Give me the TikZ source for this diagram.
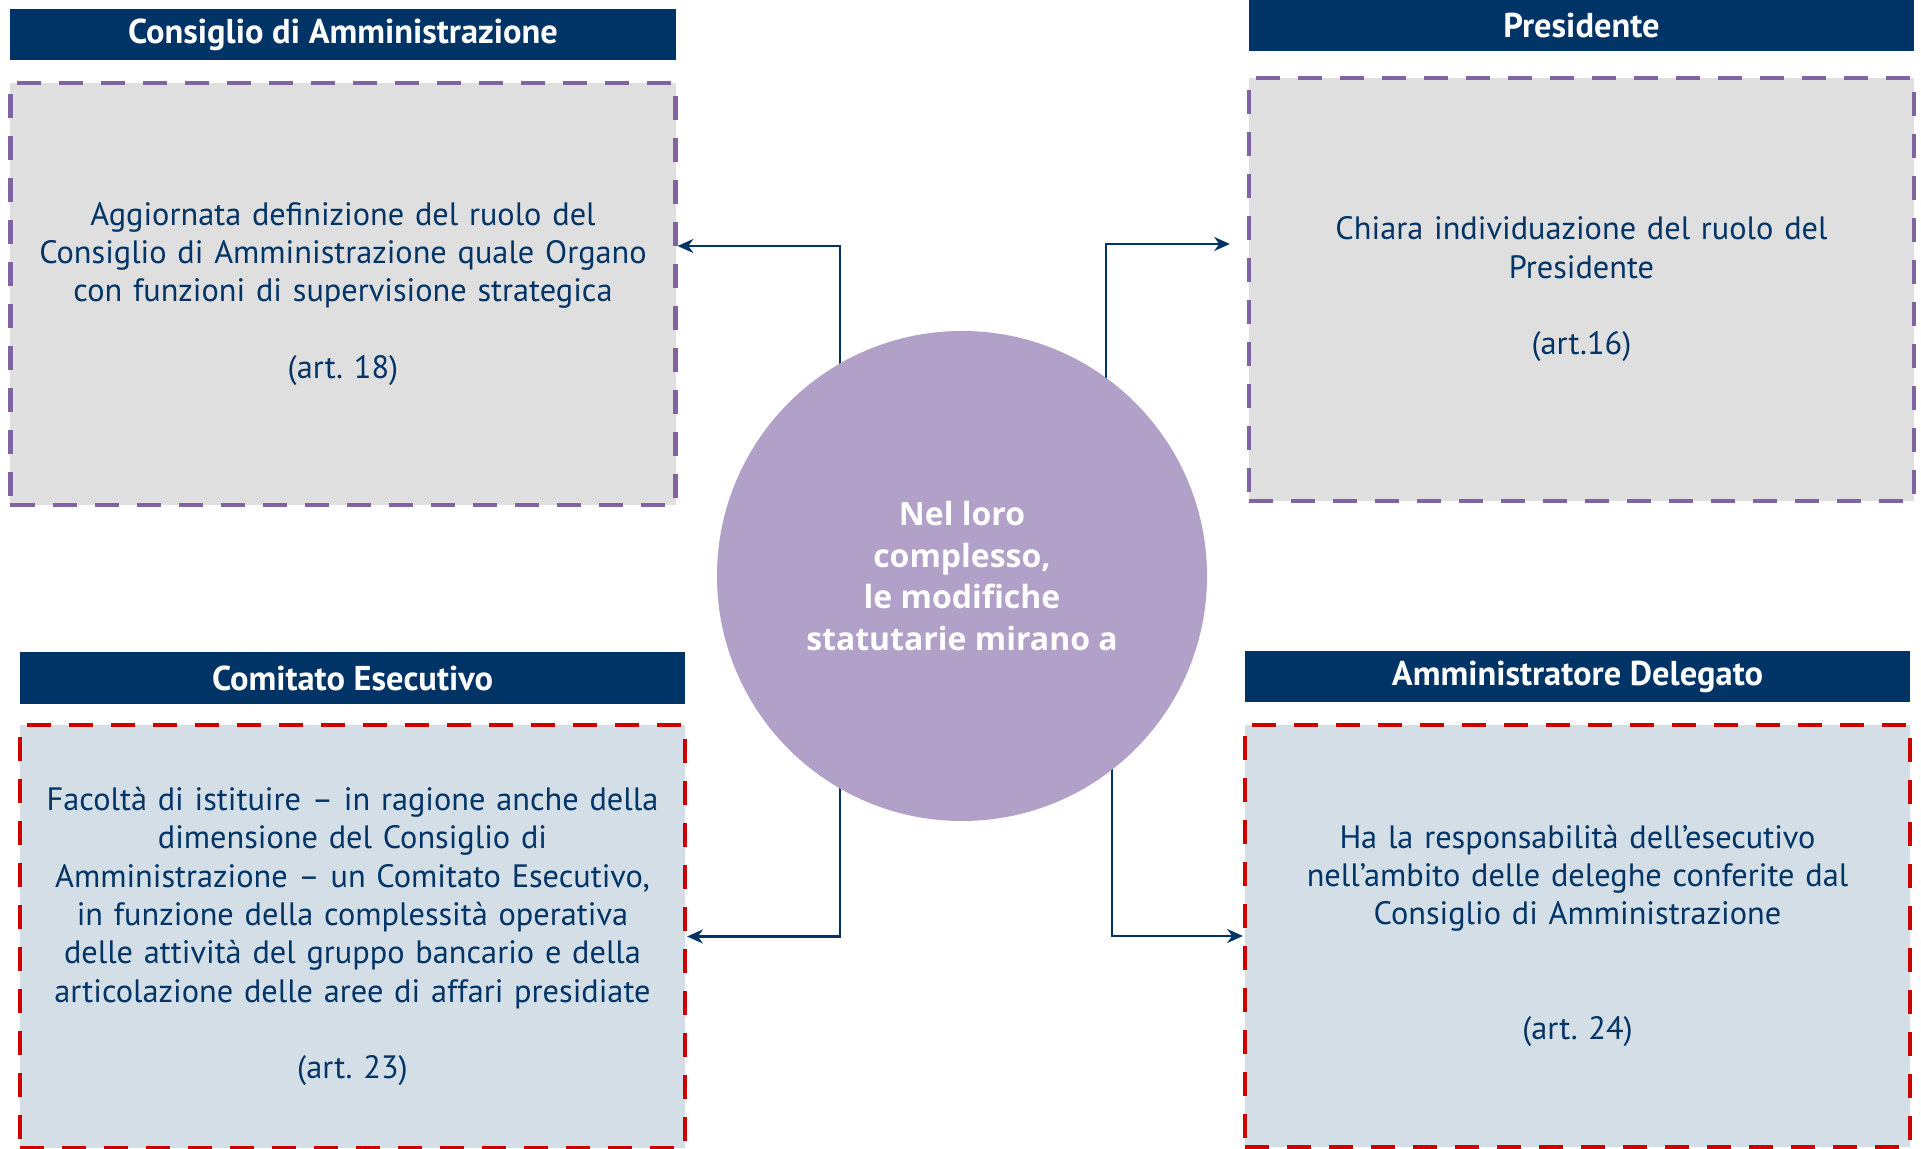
\documentclass[tikz,border=0pt]{standalone}
\usepackage{fontspec}
\setmainfont{PT Sans}
\newfontfamily\hubfont{Open Sans}
\usepackage{xcolor}
\usetikzlibrary{positioning,arrows.meta,backgrounds}

\definecolor{navy}{RGB}{0,51,102}
\definecolor{lilac}{RGB}{128,100,162}
\definecolor{lilacfill}{RGB}{177,160,199}
\definecolor{boxgray}{RGB}{223,223,223}
\definecolor{boxblue}{RGB}{211,222,230}
\definecolor{dashred}{RGB}{204,0,0}

\begin{document}
\begin{tikzpicture}[>={Stealth[length=9pt,width=8pt]},
			font=\fontsize{18.4}{21.8}\selectfont\frenchspacing]
			\tikzstyle{head}=[fill=navy,text=white,minimum width=13.3cm,minimum height=1.03cm,inner sep=0pt,font=\fontsize{19.6}{22}\selectfont\bfseries]
			\tikzstyle{card}=[dash pattern=on 0.48cm off 0.36cm,line width=2.4pt,minimum width=13.3cm,minimum height=8.45cm,text width=12.9cm,align=center,text=navy,inner sep=0pt]
			\tikzstyle{purplecard}=[card,draw=lilac,fill=boxgray]
			\tikzstyle{redcard}=[card,draw=dashred,fill=boxblue]
			\tikzstyle{link}=[->,draw=navy,line width=1.2pt]
			
			\useasboundingbox (0,0) rectangle (38.42,22.98);
			
			\node[purplecard]    (cda)  at (6.86,17.10)  {Aggiornata definizione del ruolo del\\Consiglio di Amministrazione quale Organo\\con funzioni di supervisione strategica\\~\\(art. 18)};
			
			\node[head]    (cdaH)[above=0.4cm of cda]    {Consiglio di Amministrazione};
			
			\node[purplecard]    (pres) at (31.63,17.19) {Chiara individuazione del ruolo del\\Presidente\\~\\(art.16)};
			
			\node[head]    (presH)[above=0.5cm of pres]  {Presidente};
			
			\node[redcard]    (com)  at (7.05,4.25)    {Facoltà di istituire – in ragione anche della\\dimensione del Consiglio di\\Amministrazione – un Comitato Esecutivo,\\in funzione della complessità operativa\\delle attività del gruppo bancario e della\\articolazione delle aree di affari presidiate\\~\\(art. 23)};
			
			\node[head]    (comH)[above=0.38cm of com]   {Comitato Esecutivo};
			
			\node[redcard]    (ad)   at (31.55,4.26)   {Ha la responsabilità dell’esecutivo\\nell’ambito delle deleghe conferite dal\\Consiglio di Amministrazione\\~\\~\\(art. 24)};
			
			\node[head]    (adH)[above=0.4cm of ad]      {Amministratore Delegato};
			
			\node[circle,fill=lilacfill,minimum size=9.8cm,inner sep=0pt,text=white,align=center,
				font=\hubfont\bfseries\fontsize{18.2}{23.8}\selectfont]    (hub) at (19.24,11.46)
				{Nel loro\\complesso,\\le modifiche\\statutarie mirano a};
			
			\begin{scope}[on background layer]
			\draw[link] ([xshift=-2.44cm]hub.center) |- ([yshift=0.96cm]cda.east);
			
			\draw[link] ([xshift=2.88cm]hub.center) |- ([xshift=-0.34cm,yshift=0.91cm]pres.west);
			
			\draw[link] ([xshift=-2.44cm]hub.center) |- (com.east);
			
			\draw[link] ([xshift=3cm]hub.center) |- (ad.west);
			\end{scope}
			\end{tikzpicture}
\end{document}
